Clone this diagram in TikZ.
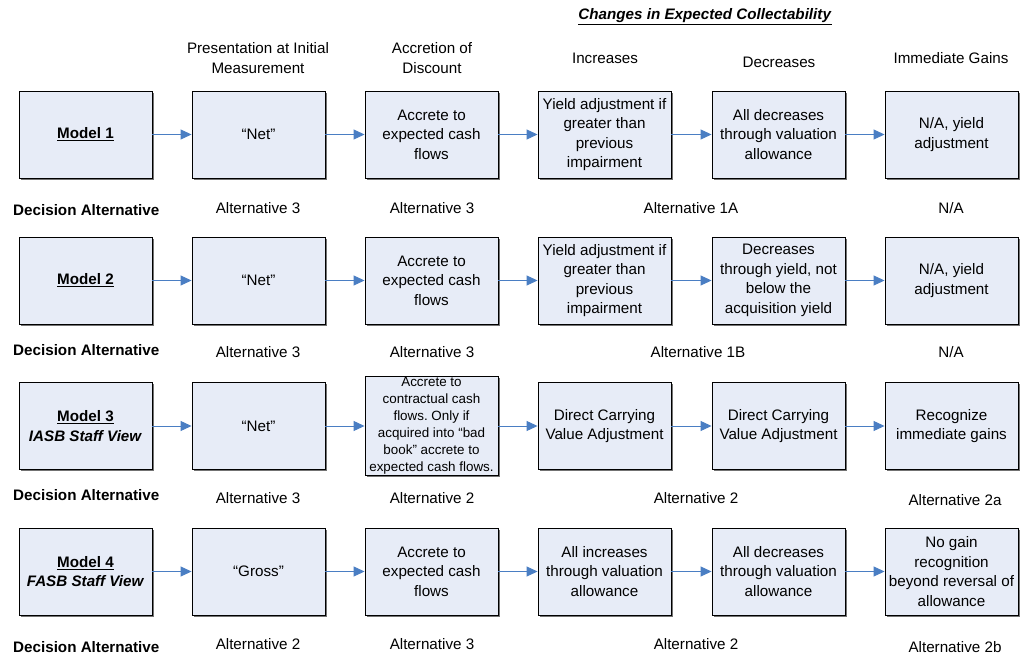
\documentclass[tikz,border=0pt]{standalone}
\usepackage{fontspec}
\setmainfont{Liberation Sans}
\frenchspacing
\usetikzlibrary{arrows.meta,shadows}
\definecolor{boxfill}{HTML}{E7ECF7}
\definecolor{arrowblue}{HTML}{4A7EC3}
\tikzset{
  stepbox/.style={draw=black, line width=0.9pt, fill=boxfill, minimum width=133pt, minimum height=87pt,
    inner sep=1pt, align=center, font=\fontsize{15.2}{19.5}\selectfont,
    drop shadow={shadow xshift=1.6pt, shadow yshift=-1.6pt, fill=black!55, opacity=1}},
  smallbox/.style={stepbox, font=\fontsize{13.4}{17}\selectfont},
  lbl/.style={align=center, inner sep=0pt, font=\fontsize{15.2}{19.5}\selectfont},
  dec/.style={anchor=west, inner sep=0pt, font=\fontsize{15.2}{19.5}\selectfont\bfseries},
  flow/.style={draw=arrowblue, line width=1pt, -{Triangle[length=11pt,width=10pt]}, arrowblue}
}
\begin{document}
\begin{tikzpicture}[x=1pt,y=-1pt]
\useasboundingbox (0,0) rectangle (1021,655);
% headers
\node[lbl] (title) at (705,17) {\underline{\textbf{\textit{Changes in Expected Collectability}}}};
\node[lbl] (h2) at (258,58) {Presentation at Initial\\Measurement};
\node[lbl] (h3) at (432,58) {Accretion of\\Discount};
\node[lbl] (h4) at (605,58) {Increases};
\node[lbl] (h5) at (779,62) {Decreases};
\node[lbl] (h6) at (951,58) {Immediate Gains};
% row 1
\node[stepbox] (a1) at (85.5,134.5) {\underline{\textbf{Model 1}}};
\node[stepbox] (a2) at (258.5,134.5) {``Net''};
\node[stepbox] (a3) at (431.5,134.5) {Accrete to\\expected cash\\flows};
\node[stepbox] (a4) at (604.5,134.5) {Yield adjustment if\\greater than\\previous\\impairment};
\node[stepbox] (a5) at (778.5,134.5) {All decreases\\through valuation\\allowance};
\node[stepbox] (a6) at (951.5,134.5) {N/A, yield\\adjustment};
% row 2
\node[stepbox] (b1) at (85.5,280.5) {\underline{\textbf{Model 2}}};
\node[stepbox] (b2) at (258.5,280.5) {``Net''};
\node[stepbox] (b3) at (431.5,280.5) {Accrete to\\expected cash\\flows};
\node[stepbox] (b4) at (604.5,280.5) {Yield adjustment if\\greater than\\previous\\impairment};
\node[stepbox] (b5) at (778.5,280.5) {Decreases\\through yield, not\\below the\\acquisition yield};
\node[stepbox] (b6) at (951.5,280.5) {N/A, yield\\adjustment};
% row 3
\node[stepbox] (c1) at (85.5,426) {\underline{\textbf{Model 3}}\\\textbf{\textit{IASB Staff View}}};
\node[stepbox] (c2) at (258.5,426) {``Net''};
\node[smallbox] (c3) at (431.5,426) {Accrete to\\contractual cash\\flows. Only if\\acquired into ``bad\\book'' accrete to\\expected cash flows.};
\node[stepbox] (c4) at (604.5,426) {Direct Carrying\\Value Adjustment};
\node[stepbox] (c5) at (778.5,426) {Direct Carrying\\Value Adjustment};
\node[stepbox] (c6) at (951.5,426) {Recognize\\immediate gains};
% row 4
\node[stepbox] (d1) at (85.5,571.5) {\underline{\textbf{Model 4}}\\\textbf{\textit{FASB Staff View}}};
\node[stepbox] (d2) at (258.5,571.5) {``Gross''};
\node[stepbox] (d3) at (431.5,571.5) {Accrete to\\expected cash\\flows};
\node[stepbox] (d4) at (604.5,571.5) {All increases\\through valuation\\allowance};
\node[stepbox] (d5) at (778.5,571.5) {All decreases\\through valuation\\allowance};
\node[stepbox] (d6) at (951.5,571.5) {No gain\\recognition\\beyond reversal of\\allowance};
% arrows
\foreach \r in {a,b,c,d}{
  \draw[flow] (\r1) -- (\r2);
  \draw[flow] (\r2) -- (\r3);
  \draw[flow] (\r3) -- (\r4);
  \draw[flow] (\r4) -- (\r5);
  \draw[flow] (\r5) -- (\r6);
}
% decision rows
\node[dec] (da1) at (13,210) {Decision Alternative};
\node[lbl] (ra2) at (258,208) {Alternative 3};
\node[lbl] (ra3) at (432,208) {Alternative 3};
\node[lbl] (ra4) at (691,208) {Alternative 1A};
\node[lbl] (ra6) at (951,208) {N/A};
\node[dec] (da2) at (13,350) {Decision Alternative};
\node[lbl] (rb2) at (258,352) {Alternative 3};
\node[lbl] (rb3) at (432,352) {Alternative 3};
\node[lbl] (rb4) at (698,352) {Alternative 1B};
\node[lbl] (rb6) at (951,352) {N/A};
\node[dec] (da3) at (13,495) {Decision Alternative};
\node[lbl] (rc2) at (258,498) {Alternative 3};
\node[lbl] (rc3) at (432,498) {Alternative 2};
\node[lbl] (rc4) at (696,498) {Alternative 2};
\node[lbl] (rc6) at (955,500) {Alternative 2a};
\node[dec] (da4) at (13,647) {Decision Alternative};
\node[lbl] (rd2) at (258,644) {Alternative 2};
\node[lbl] (rd3) at (432,644) {Alternative 3};
\node[lbl] (rd4) at (696,644) {Alternative 2};
\node[lbl] (rd6) at (955,647) {Alternative 2b};
\end{tikzpicture}
\end{document}
